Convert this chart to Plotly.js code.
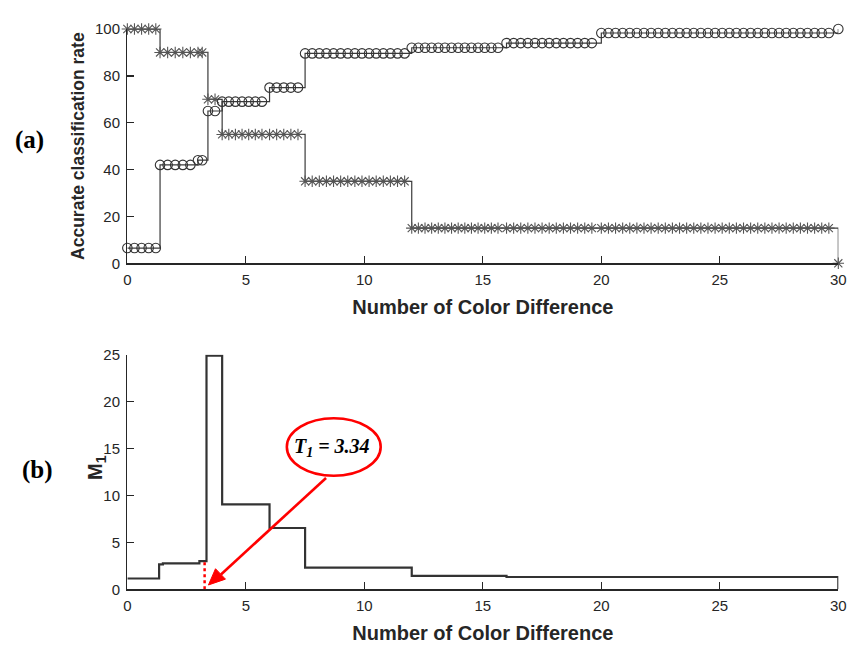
<!DOCTYPE html>
<html><head><meta charset="utf-8">
<script src="https://cdn.plot.ly/plotly-3.0.1.min.js"></script>
<style>html,body{margin:0;padding:0;background:#fff}#chart{width:857px;height:645px}</style>
</head><body><div id="chart"></div>
<script>
// ---- data ----
const colorDiff = [0,0.3,0.6,0.9,1.2,
  1.38,1.7,2.02,2.34,2.66,2.98,3.16,
  3.4,3.7,
  4.0,4.28,4.56,4.84,5.12,5.4,5.68,
  6.0,6.3,6.6,6.9,7.2,
  7.5,7.8,8.1,8.4,8.7,9.0,9.3,9.6,9.9,10.2,10.5,10.8,11.1,11.4,11.7,
  12.0,12.28,12.56,12.84,13.12,13.4,13.68,13.96,14.24,14.52,14.8,15.08,15.36,15.64,
  16.0,16.3,16.6,16.9,17.2,17.5,17.8,18.1,18.4,18.7,19.0,19.3,19.6,
  20.0,20.3,20.6,20.9,21.2,21.5,21.8,22.1,22.4,22.7,23.0,23.3,23.6,23.9,24.2,24.5,24.8,25.1,25.4,25.7,26.0,26.3,26.6,26.9,27.2,27.5,27.8,28.1,28.4,28.7,29.0,29.3,29.6,
  30.0];
const rateCircle = [6.5,6.5,6.5,6.5,6.5,
  42,42,42,42,42,44,44,
  65,65,
  69,69,69,69,69,69,69,
  75,75,75,75,75,
  89.6,89.6,89.6,89.6,89.6,89.6,89.6,89.6,89.6,89.6,89.6,89.6,89.6,89.6,89.6,
  92,92,92,92,92,92,92,92,92,92,92,92,92,92,
  94,94,94,94,94,94,94,94,94,94,94,94,94,
  98.3,98.3,98.3,98.3,98.3,98.3,98.3,98.3,98.3,98.3,98.3,98.3,98.3,98.3,98.3,98.3,98.3,98.3,98.3,98.3,98.3,98.3,98.3,98.3,98.3,98.3,98.3,98.3,98.3,98.3,98.3,98.3,98.3,
  100];
const rateStar = [100,100,100,100,100,
  90,90,90,90,90,90,90,
  70,70,
  55,55,55,55,55,55,55,
  55,55,55,55,55,
  35,35,35,35,35,35,35,35,35,35,35,35,35,35,35,
  15,15,15,15,15,15,15,15,15,15,15,15,15,15,
  15,15,15,15,15,15,15,15,15,15,15,15,15,
  15,15,15,15,15,15,15,15,15,15,15,15,15,15,15,15,15,15,15,15,15,15,15,15,15,15,15,15,15,15,15,15,15,
  0];
const m1X = [0, 1.34, 1.5, 3.04, 3.34, 4.0, 6.0, 7.5, 12.0, 16.0, 30];
const m1Y = [1.15, 2.66, 2.77, 3.0, 24.9, 9.05, 6.53, 2.3, 1.42, 1.31, 0];
const xTickVals = [0, 5, 10, 15, 20, 25, 30];
const rateTickVals = [0, 20, 40, 60, 80, 100];
const m1TickVals = [0, 5, 10, 15, 20, 25];
const threshold = 3.34;

const ink = '#262626';
const lineCol = '#3a3a3a';

const traces = [
  {x: colorDiff, y: rateStar, xaxis:'x', yaxis:'y', type:'scatter', mode:'lines+markers',
   line:{shape:'hv', color:lineCol, width:1.2}, cliponaxis:false,
   marker:{symbol:'asterisk-open', size:9.5, color:'#555', line:{color:'#555', width:1.1}}},
  {x: colorDiff, y: rateCircle, xaxis:'x', yaxis:'y', type:'scatter', mode:'lines+markers',
   line:{shape:'hv', color:lineCol, width:1.2}, cliponaxis:false,
   marker:{symbol:'circle-open', size:9.5, color:'#333', line:{color:'#333', width:1.1}}},
  {x: m1X, y: m1Y, xaxis:'x2', yaxis:'y2', type:'scatter', mode:'lines',
   line:{shape:'hv', color:'#333', width:2.2}, cliponaxis:false}
];

const axisCommon = {showgrid:false, zeroline:false, showline:true, linecolor:ink, linewidth:1.3,
  ticks:'inside', ticklen:7, tickwidth:1.3, tickcolor:ink, tickmode:'array', automargin:false,
  tickfont:{family:'Liberation Sans, Arial, sans-serif', size:15, color:ink}, fixedrange:true};

const sans = 'Liberation Sans, Arial, sans-serif';
const xTitle = {text:'<b>Number of Color Difference</b>', font:{family:sans, size:20, color:ink}, standoff:13};
const red = '#ff0000';
const layout = {
  width:857, height:645, margin:{l:0, r:0, t:0, b:0},
  paper_bgcolor:'#ffffff', plot_bgcolor:'#ffffff', showlegend:false,
  xaxis: Object.assign({}, axisCommon, {domain:[0.1486,0.9782], range:[0,30], anchor:'y', tickvals:xTickVals, ticklabelstandoff:2, title:xTitle}),
  yaxis: Object.assign({}, axisCommon, {domain:[0.5918,0.955], range:[0,100], anchor:'x', tickvals:rateTickVals, ticklabelstandoff:3,
    title:{text:'<b>Accurate classification rate</b>', font:{family:sans, size:17.5, color:ink}, standoff:6}}),
  xaxis2: Object.assign({}, axisCommon, {domain:[0.1486,0.9782], range:[0,30], anchor:'y2', tickvals:xTickVals, ticklabelstandoff:2, title:xTitle}),
  yaxis2: Object.assign({}, axisCommon, {domain:[0.0864,0.4501], range:[0,25], anchor:'x2', tickvals:m1TickVals, ticklabelstandoff:3}),
  shapes: [
    {type:'circle', xref:'x2', yref:'y2', x0:6.73, x1:10.69, y0:12.1, y1:18.22,
     line:{color:red, width:2.6}},
    {type:'line', xref:'x2', yref:'y2', x0:threshold-0.08, x1:threshold-0.08, y0:0, y1:3.0,
     line:{color:red, width:2.5, dash:'dot'}},
    {type:'line', xref:'x2', yref:'y2', x0:8.384, y0:11.86, x1:3.95, y1:1.58,
     line:{color:red, width:2.6}},
    {type:'path', xref:'x2', yref:'y2', path:'M 3.422 0.458 L 4.14 1.08 L 3.72 2.19 Z',
     fillcolor:red, line:{color:red, width:1}}
  ],
  annotations: [
    {xref:'paper', yref:'paper', x:96/857, y:1-468/645, text:'<b>M<sub>1</sub></b>', textangle:-90,
     showarrow:false, font:{family:sans, size:20, color:ink}, xanchor:'center', yanchor:'middle'},
    {xref:'paper', yref:'paper', x:30/857, y:1-140/645, text:'<b>(a)</b>',
     showarrow:false, font:{family:'Liberation Serif, Times New Roman, serif', size:25, color:'#000'}, xanchor:'center', yanchor:'middle'},
    {xref:'paper', yref:'paper', x:37/857, y:1-470/645, text:'<b>(b)</b>',
     showarrow:false, font:{family:'Liberation Serif, Times New Roman, serif', size:25, color:'#000'}, xanchor:'center', yanchor:'middle'},
    {xref:'x2', yref:'y2', x:8.62, y:15.1, text:'<b><i>T<sub>1</sub> = ' + threshold.toFixed(2) + '</i></b>',
     showarrow:false, font:{family:'Liberation Serif, Times New Roman, serif', size:20, color:'#000'}, xanchor:'center', yanchor:'middle'}
  ]
};

Plotly.newPlot('chart', traces, layout, {staticPlot:true, displayModeBar:false});
</script>
</body></html>
